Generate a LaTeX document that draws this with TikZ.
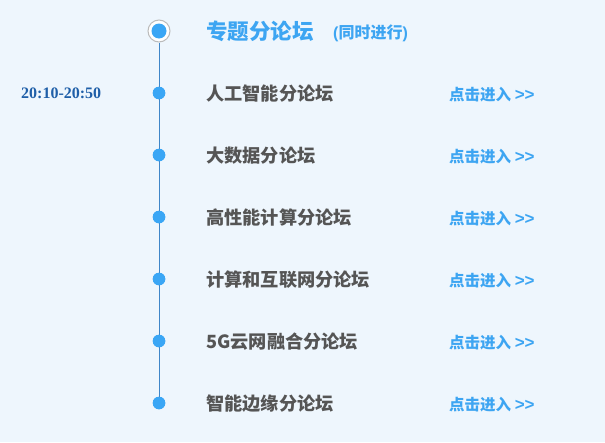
\documentclass[tikz,border=0pt]{standalone}
\usepackage{fontspec}
\newfontfamily\cjk{Noto Sans CJK SC}
\newfontfamily\lat{Liberation Sans}
\newfontfamily\timesf{Liberation Serif}
\definecolor{bg}{HTML}{EEF6FD}
\definecolor{dotblue}{HTML}{3AA6F5}
\definecolor{lineblue}{HTML}{3F86C8}
\definecolor{titleblue}{HTML}{3DA5F2}
\definecolor{itemgray}{HTML}{555555}
\definecolor{timeblue}{HTML}{1F5FA8}
\definecolor{ringgray}{HTML}{BBBBBB}
\begin{document}
\begin{tikzpicture}[x=1pt,y=-1pt,
  dot/.style={circle,fill=dotblue,inner sep=0pt,minimum size=12.5pt},
  item/.style={anchor=west,inner sep=0pt,font=\cjk\bfseries\fontsize{18.2}{20}\selectfont,text=itemgray},
  enter/.style={anchor=west,inner sep=0pt,font=\cjk\bfseries\fontsize{15.5}{18}\selectfont,text=titleblue},
  ]
\fill[bg] (0,0) rectangle (605,442);
\useasboundingbox (0,0) rectangle (605,442);
% top marker
\node[circle,draw=ringgray,line width=1pt,fill=white,inner sep=0pt,minimum size=22pt] (top) at (159,31) {};
\node[circle,fill=dotblue,inner sep=0pt,minimum size=15pt] (topin) at (159,31) {};
\node[anchor=west,inner sep=0pt,font=\cjk\bfseries\fontsize{21.5}{24}\selectfont,text=titleblue] (title) at (206,31) {专题分论坛};
\node[anchor=west,inner sep=0pt,font=\cjk\bfseries\fontsize{16}{18}\selectfont,text=titleblue] (simul) at (333,33) {{\lat\bfseries(}同时进行{\lat\bfseries)}};
% dots
\foreach \i/\y in {1/93,2/155,3/217,4/279,5/341,6/403}{
  \node[dot] (d\i) at (159,\y) {};
}
\draw[lineblue,line width=1pt] (top.south) -- (d1.north);
\draw[lineblue,line width=1pt] (d1) -- (d2);
\draw[lineblue,line width=1pt] (d2) -- (d3);
\draw[lineblue,line width=1pt] (d3) -- (d4);
\draw[lineblue,line width=1pt] (d4) -- (d5);
\draw[lineblue,line width=1pt] (d5) -- (d6);
\foreach \i in {1,...,6}{\node[dot] at (d\i) {};}
% items
\node[item] (t1) at (206,94) {人工智能分论坛};
\node[item] (t2) at (206,156) {大数据分论坛};
\node[item] (t3) at (206,218) {高性能计算分论坛};
\node[item] (t4) at (206,280) {计算和互联网分论坛};
\node[item] (t5) at (206,342) {5G云网融合分论坛};
\node[item] (t6) at (206,404) {智能边缘分论坛};
\foreach \i/\y in {1/95,2/157,3/219,4/281,5/343,6/405}{
  \node[enter] (e\i) at (449,\y) {点击进入 {\lat\bfseries\fontsize{17}{18}\selectfont >>}};
}
\node[anchor=west,inner sep=0pt,font=\timesf\bfseries\fontsize{16}{18}\selectfont,text=timeblue] (time) at (21,93) {20:10-20:50};
\end{tikzpicture}
\end{document}
